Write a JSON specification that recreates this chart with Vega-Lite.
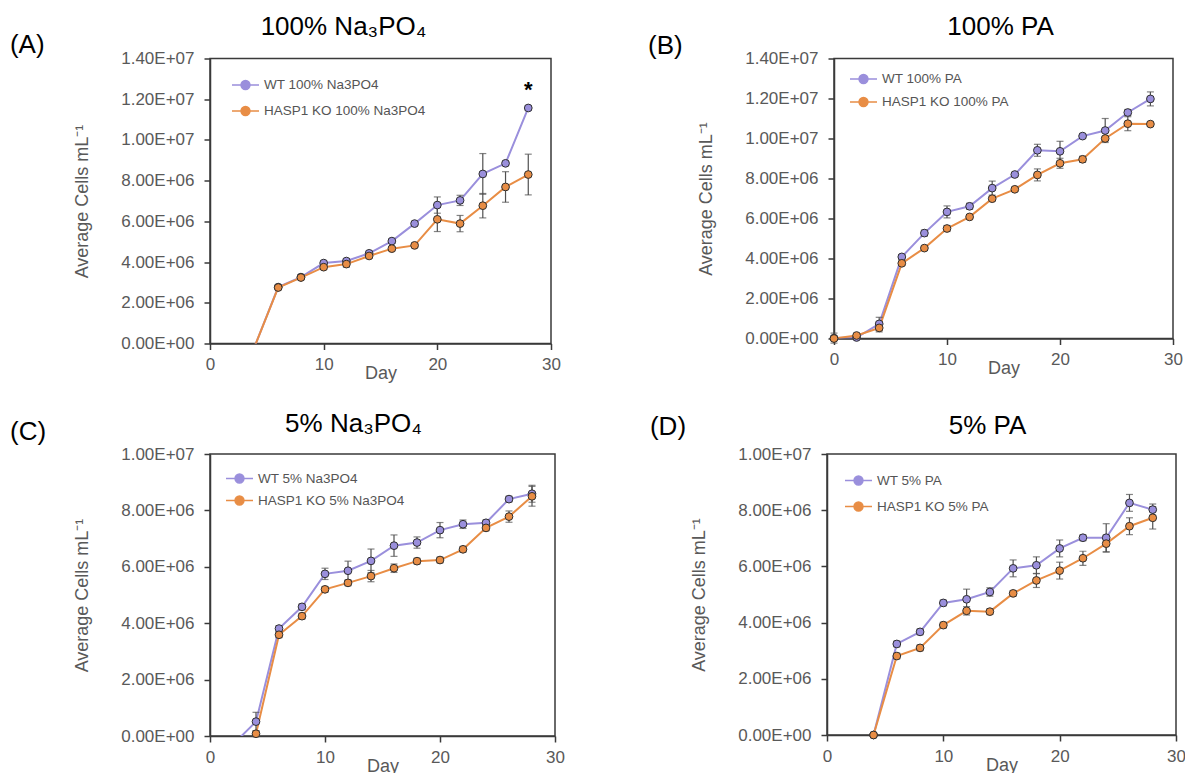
{
  "$schema": "https://vega.github.io/schema/vega-lite/v6.json",
  "padding": {"left": 9, "top": 12.5, "right": 0, "bottom": 5},
  "background": "white",
  "config": {
    "font": "Liberation Sans",
    "view": {"stroke": "#3a3a3a", "strokeWidth": 1.5},
    "axis": {"grid": false, "domainColor": "#3a3a3a", "domainWidth": 1.5, "tickColor": "#3a3a3a", "tickSize": 6, "tickWidth": 1.5, "labelColor": "#595959", "labelFontSize": 17, "titleColor": "#595959", "titleFontSize": 18, "titleFontWeight": "normal", "labelFont": "Liberation Sans", "titleFont": "Liberation Sans", "labelFlush": false},
    "axisX": {"labelPadding": 7, "titlePadding": -8},
    "axisY": {"labelPadding": 10, "titlePadding": 29},
    "title": {"fontSize": 26, "fontWeight": "normal", "color": "#000000", "font": "Liberation Sans", "frame": "group", "anchor": "middle"},
    "legend": {"title": null, "orient": "none", "symbolType": "M-1,0H-0.33M0.33,0H1M-0.33,0A0.33,0.33,0,1,0,0.33,0A0.33,0.33,0,1,0,-0.33,0Z", "symbolSize": 729, "symbolStrokeWidth": 1.5, "labelFontSize": 13.5, "labelColor": "#555555", "labelOffset": 4, "labelLimit": 400, "padding": 0}
  },
  "datasets": {
    "pts": [
      {"p": "A", "s": "WT 100% Na3PO4", "day": 4, "y": -50000, "e": 0},
      {"p": "A", "s": "WT 100% Na3PO4", "day": 6, "y": 2770000, "e": 50000},
      {"p": "A", "s": "WT 100% Na3PO4", "day": 8, "y": 3260000, "e": 100000},
      {"p": "A", "s": "WT 100% Na3PO4", "day": 10, "y": 3950000, "e": 100000},
      {"p": "A", "s": "WT 100% Na3PO4", "day": 12, "y": 4050000, "e": 100000},
      {"p": "A", "s": "WT 100% Na3PO4", "day": 14, "y": 4430000, "e": 100000},
      {"p": "A", "s": "WT 100% Na3PO4", "day": 16, "y": 5030000, "e": 100000},
      {"p": "A", "s": "WT 100% Na3PO4", "day": 18, "y": 5890000, "e": 100000},
      {"p": "A", "s": "WT 100% Na3PO4", "day": 20, "y": 6800000, "e": 400000},
      {"p": "A", "s": "WT 100% Na3PO4", "day": 22, "y": 7030000, "e": 250000},
      {"p": "A", "s": "WT 100% Na3PO4", "day": 24, "y": 8330000, "e": 1000000},
      {"p": "A", "s": "WT 100% Na3PO4", "day": 26, "y": 8850000, "e": 100000},
      {"p": "A", "s": "WT 100% Na3PO4", "day": 28, "y": 11570000, "e": 100000},
      {"p": "A", "s": "HASP1 KO 100% Na3PO4", "day": 4, "y": -50000, "e": 0},
      {"p": "A", "s": "HASP1 KO 100% Na3PO4", "day": 6, "y": 2750000, "e": 100000},
      {"p": "A", "s": "HASP1 KO 100% Na3PO4", "day": 8, "y": 3240000, "e": 100000},
      {"p": "A", "s": "HASP1 KO 100% Na3PO4", "day": 10, "y": 3750000, "e": 100000},
      {"p": "A", "s": "HASP1 KO 100% Na3PO4", "day": 12, "y": 3900000, "e": 150000},
      {"p": "A", "s": "HASP1 KO 100% Na3PO4", "day": 14, "y": 4300000, "e": 100000},
      {"p": "A", "s": "HASP1 KO 100% Na3PO4", "day": 16, "y": 4660000, "e": 100000},
      {"p": "A", "s": "HASP1 KO 100% Na3PO4", "day": 18, "y": 4820000, "e": 100000},
      {"p": "A", "s": "HASP1 KO 100% Na3PO4", "day": 20, "y": 6100000, "e": 600000},
      {"p": "A", "s": "HASP1 KO 100% Na3PO4", "day": 22, "y": 5890000, "e": 400000},
      {"p": "A", "s": "HASP1 KO 100% Na3PO4", "day": 24, "y": 6770000, "e": 600000},
      {"p": "A", "s": "HASP1 KO 100% Na3PO4", "day": 26, "y": 7690000, "e": 750000},
      {"p": "A", "s": "HASP1 KO 100% Na3PO4", "day": 28, "y": 8300000, "e": 1000000},

      {"p": "B", "s": "WT 100% PA", "day": 0, "y": 20000, "e": 250000},
      {"p": "B", "s": "WT 100% PA", "day": 2, "y": 50000, "e": 100000},
      {"p": "B", "s": "WT 100% PA", "day": 4, "y": 730000, "e": 330000},
      {"p": "B", "s": "WT 100% PA", "day": 6, "y": 4080000, "e": 100000},
      {"p": "B", "s": "WT 100% PA", "day": 8, "y": 5270000, "e": 150000},
      {"p": "B", "s": "WT 100% PA", "day": 10, "y": 6330000, "e": 300000},
      {"p": "B", "s": "WT 100% PA", "day": 12, "y": 6610000, "e": 150000},
      {"p": "B", "s": "WT 100% PA", "day": 14, "y": 7520000, "e": 350000},
      {"p": "B", "s": "WT 100% PA", "day": 16, "y": 8200000, "e": 100000},
      {"p": "B", "s": "WT 100% PA", "day": 18, "y": 9410000, "e": 300000},
      {"p": "B", "s": "WT 100% PA", "day": 20, "y": 9360000, "e": 500000},
      {"p": "B", "s": "WT 100% PA", "day": 22, "y": 10120000, "e": 100000},
      {"p": "B", "s": "WT 100% PA", "day": 24, "y": 10400000, "e": 600000},
      {"p": "B", "s": "WT 100% PA", "day": 26, "y": 11300000, "e": 150000},
      {"p": "B", "s": "WT 100% PA", "day": 28, "y": 11980000, "e": 350000},
      {"p": "B", "s": "HASP1 KO 100% PA", "day": 0, "y": 0, "e": 100000},
      {"p": "B", "s": "HASP1 KO 100% PA", "day": 2, "y": 150000, "e": 100000},
      {"p": "B", "s": "HASP1 KO 100% PA", "day": 4, "y": 530000, "e": 200000},
      {"p": "B", "s": "HASP1 KO 100% PA", "day": 6, "y": 3760000, "e": 100000},
      {"p": "B", "s": "HASP1 KO 100% PA", "day": 8, "y": 4520000, "e": 100000},
      {"p": "B", "s": "HASP1 KO 100% PA", "day": 10, "y": 5500000, "e": 150000},
      {"p": "B", "s": "HASP1 KO 100% PA", "day": 12, "y": 6080000, "e": 100000},
      {"p": "B", "s": "HASP1 KO 100% PA", "day": 14, "y": 6990000, "e": 100000},
      {"p": "B", "s": "HASP1 KO 100% PA", "day": 16, "y": 7460000, "e": 100000},
      {"p": "B", "s": "HASP1 KO 100% PA", "day": 18, "y": 8180000, "e": 300000},
      {"p": "B", "s": "HASP1 KO 100% PA", "day": 20, "y": 8760000, "e": 250000},
      {"p": "B", "s": "HASP1 KO 100% PA", "day": 22, "y": 8960000, "e": 150000},
      {"p": "B", "s": "HASP1 KO 100% PA", "day": 24, "y": 10000000, "e": 100000},
      {"p": "B", "s": "HASP1 KO 100% PA", "day": 26, "y": 10740000, "e": 350000},
      {"p": "B", "s": "HASP1 KO 100% PA", "day": 28, "y": 10720000, "e": 100000},

      {"p": "C", "s": "WT 5% Na3PO4", "day": 2, "y": -300000, "e": 0},
      {"p": "C", "s": "WT 5% Na3PO4", "day": 4, "y": 510000, "e": 330000},
      {"p": "C", "s": "WT 5% Na3PO4", "day": 6, "y": 3810000, "e": 100000},
      {"p": "C", "s": "WT 5% Na3PO4", "day": 8, "y": 4580000, "e": 100000},
      {"p": "C", "s": "WT 5% Na3PO4", "day": 10, "y": 5750000, "e": 200000},
      {"p": "C", "s": "WT 5% Na3PO4", "day": 12, "y": 5860000, "e": 340000},
      {"p": "C", "s": "WT 5% Na3PO4", "day": 14, "y": 6210000, "e": 420000},
      {"p": "C", "s": "WT 5% Na3PO4", "day": 16, "y": 6750000, "e": 380000},
      {"p": "C", "s": "WT 5% Na3PO4", "day": 18, "y": 6860000, "e": 200000},
      {"p": "C", "s": "WT 5% Na3PO4", "day": 20, "y": 7300000, "e": 270000},
      {"p": "C", "s": "WT 5% Na3PO4", "day": 22, "y": 7510000, "e": 150000},
      {"p": "C", "s": "WT 5% Na3PO4", "day": 24, "y": 7560000, "e": 100000},
      {"p": "C", "s": "WT 5% Na3PO4", "day": 26, "y": 8400000, "e": 100000},
      {"p": "C", "s": "WT 5% Na3PO4", "day": 28, "y": 8590000, "e": 300000},
      {"p": "C", "s": "HASP1 KO 5% Na3PO4", "day": 4, "y": 80000, "e": 100000},
      {"p": "C", "s": "HASP1 KO 5% Na3PO4", "day": 6, "y": 3590000, "e": 100000},
      {"p": "C", "s": "HASP1 KO 5% Na3PO4", "day": 8, "y": 4250000, "e": 100000},
      {"p": "C", "s": "HASP1 KO 5% Na3PO4", "day": 10, "y": 5200000, "e": 100000},
      {"p": "C", "s": "HASP1 KO 5% Na3PO4", "day": 12, "y": 5430000, "e": 100000},
      {"p": "C", "s": "HASP1 KO 5% Na3PO4", "day": 14, "y": 5670000, "e": 200000},
      {"p": "C", "s": "HASP1 KO 5% Na3PO4", "day": 16, "y": 5950000, "e": 150000},
      {"p": "C", "s": "HASP1 KO 5% Na3PO4", "day": 18, "y": 6200000, "e": 100000},
      {"p": "C", "s": "HASP1 KO 5% Na3PO4", "day": 20, "y": 6240000, "e": 100000},
      {"p": "C", "s": "HASP1 KO 5% Na3PO4", "day": 22, "y": 6620000, "e": 100000},
      {"p": "C", "s": "HASP1 KO 5% Na3PO4", "day": 24, "y": 7380000, "e": 100000},
      {"p": "C", "s": "HASP1 KO 5% Na3PO4", "day": 26, "y": 7780000, "e": 200000},
      {"p": "C", "s": "HASP1 KO 5% Na3PO4", "day": 28, "y": 8500000, "e": 350000},

      {"p": "D", "s": "WT  5% PA", "day": 4, "y": 0, "e": 0},
      {"p": "D", "s": "WT  5% PA", "day": 6, "y": 3240000, "e": 100000},
      {"p": "D", "s": "WT  5% PA", "day": 8, "y": 3670000, "e": 100000},
      {"p": "D", "s": "WT  5% PA", "day": 10, "y": 4700000, "e": 100000},
      {"p": "D", "s": "WT  5% PA", "day": 12, "y": 4830000, "e": 360000},
      {"p": "D", "s": "WT  5% PA", "day": 14, "y": 5090000, "e": 150000},
      {"p": "D", "s": "WT  5% PA", "day": 16, "y": 5930000, "e": 300000},
      {"p": "D", "s": "WT  5% PA", "day": 18, "y": 6040000, "e": 300000},
      {"p": "D", "s": "WT  5% PA", "day": 20, "y": 6640000, "e": 300000},
      {"p": "D", "s": "WT  5% PA", "day": 22, "y": 7020000, "e": 100000},
      {"p": "D", "s": "WT  5% PA", "day": 24, "y": 7020000, "e": 500000},
      {"p": "D", "s": "WT  5% PA", "day": 26, "y": 8260000, "e": 300000},
      {"p": "D", "s": "WT  5% PA", "day": 28, "y": 8020000, "e": 200000},
      {"p": "D", "s": "HASP1 KO 5% PA", "day": 4, "y": 0, "e": 0},
      {"p": "D", "s": "HASP1 KO 5% PA", "day": 6, "y": 2810000, "e": 100000},
      {"p": "D", "s": "HASP1 KO 5% PA", "day": 8, "y": 3100000, "e": 100000},
      {"p": "D", "s": "HASP1 KO 5% PA", "day": 10, "y": 3910000, "e": 100000},
      {"p": "D", "s": "HASP1 KO 5% PA", "day": 12, "y": 4420000, "e": 150000},
      {"p": "D", "s": "HASP1 KO 5% PA", "day": 14, "y": 4390000, "e": 100000},
      {"p": "D", "s": "HASP1 KO 5% PA", "day": 16, "y": 5040000, "e": 100000},
      {"p": "D", "s": "HASP1 KO 5% PA", "day": 18, "y": 5500000, "e": 250000},
      {"p": "D", "s": "HASP1 KO 5% PA", "day": 20, "y": 5850000, "e": 300000},
      {"p": "D", "s": "HASP1 KO 5% PA", "day": 22, "y": 6290000, "e": 250000},
      {"p": "D", "s": "HASP1 KO 5% PA", "day": 24, "y": 6810000, "e": 300000},
      {"p": "D", "s": "HASP1 KO 5% PA", "day": 26, "y": 7430000, "e": 300000},
      {"p": "D", "s": "HASP1 KO 5% PA", "day": 28, "y": 7730000, "e": 400000}
    ]
  },
  "resolve": {"scale": {"color": "independent", "x": "independent", "y": "independent"}, "legend": {"color": "independent"}},
  "spacing": 26.5,
  "vconcat": [
    {
      "spacing": 85,
      "resolve": {"scale": {"color": "independent", "x": "independent", "y": "independent"}, "legend": {"color": "independent"}},
      "hconcat": [
        {
          "width": 341, "height": 285,
          "view": {"stroke": "#3a3a3a", "strokeWidth": 1.5},
          "title": {"text": "100% Na₃PO₄", "dx": -37, "offset": -8},
          "encoding": {
            "x": {"field": "day", "type": "quantitative", "scale": {"domain": [0, 30], "nice": false}, "axis": {"values": [0, 10, 20, 30], "title": "Day"}},
            "y": {"field": "y", "type": "quantitative", "scale": {"domain": [0, 14000000], "nice": false}, "axis": {"values": [0, 2000000, 4000000, 6000000, 8000000, 10000000, 12000000, 14000000], "title": "Average Cells mL⁻¹", "labelExpr": "replace(format(datum.value, '.2e'), 'e+', 'E+0')"}},
            "color": {"field": "s", "type": "nominal", "scale": {"domain": ["WT 100% Na3PO4", "HASP1 KO 100% Na3PO4"], "range": ["#9a8fdc", "#e88d45"]}, "legend": {"legendX": 21, "legendY": 12, "rowPadding": 4}}
          },
          "layer": [
            {"data": {"name": "pts"}, "transform": [{"filter": "datum.p === 'A'"}], "mark": {"type": "line", "clip": true, "strokeWidth": 2}},
            {"data": {"name": "pts"}, "transform": [{"filter": "datum.p === 'A' && datum.e > 0"}], "mark": {"type": "errorbar", "ticks": {"size": 7, "thickness": 1.2}, "rule": {"strokeWidth": 1.2}}, "encoding": {"yError": {"field": "e"}, "color": {"value": "#505050"}}},
            {"data": {"name": "pts"}, "transform": [{"filter": "datum.p === 'A' && datum.y >= 0"}], "mark": {"type": "point", "filled": true, "size": 60, "stroke": "#2e2e2e", "strokeWidth": 1, "opacity": 1}},
            {"data": {"name": "pts"}, "transform": [{"filter": "datum.p === 'A' && datum.day === 28 && datum.e === 1000000"}], "mark": {"type": "text", "fontSize": 26, "align": "left", "baseline": "middle", "clip": false, "color": "#000000"}, "encoding": {"x": {"datum": -17.6}, "y": {"datum": 14639000}, "text": {"value": "(A)"}, "color": {"value": "#000000"}}},
            {"data": {"name": "pts"}, "transform": [{"filter": "datum.p === 'A' && datum.day === 28 && datum.e === 1000000"}], "mark": {"type": "text", "fontSize": 22, "fontWeight": "bold", "align": "center", "baseline": "middle", "color": "#000000"}, "encoding": {"x": {"datum": 28}, "y": {"datum": 12450000}, "text": {"value": "*"}, "color": {"value": "#000000"}}}
          ]
        },
        {
          "width": 339, "height": 280,
          "view": {"stroke": "#3a3a3a", "strokeWidth": 1.5},
          "title": {"text": "100% PA", "dx": -3, "offset": -7},
          "encoding": {
            "x": {"field": "day", "type": "quantitative", "scale": {"domain": [0, 30], "nice": false}, "axis": {"values": [0, 10, 20, 30], "title": "Day"}},
            "y": {"field": "y", "type": "quantitative", "scale": {"domain": [0, 14000000], "nice": false}, "axis": {"values": [0, 2000000, 4000000, 6000000, 8000000, 10000000, 12000000, 14000000], "title": "Average Cells mL⁻¹", "labelExpr": "replace(format(datum.value, '.2e'), 'e+', 'E+0')"}},
            "color": {"field": "s", "type": "nominal", "scale": {"domain": ["WT 100% PA", "HASP1 KO 100% PA"], "range": ["#9a8fdc", "#e88d45"]}, "legend": {"legendX": 15, "legendY": 6, "rowPadding": 1}}
          },
          "layer": [
            {"data": {"name": "pts"}, "transform": [{"filter": "datum.p === 'B'"}], "mark": {"type": "line", "clip": true, "strokeWidth": 2}},
            {"data": {"name": "pts"}, "transform": [{"filter": "datum.p === 'B' && datum.e > 0"}], "mark": {"type": "errorbar", "ticks": {"size": 7, "thickness": 1.2}, "rule": {"strokeWidth": 1.2}}, "encoding": {"yError": {"field": "e"}, "color": {"value": "#505050"}}},
            {"data": {"name": "pts"}, "transform": [{"filter": "datum.p === 'B' && datum.y >= 0"}], "mark": {"type": "point", "filled": true, "size": 60, "stroke": "#2e2e2e", "strokeWidth": 1, "opacity": 1}},
            {"data": {"name": "pts"}, "transform": [{"filter": "datum.p === 'B' && datum.day === 28 && datum.y === 11980000"}], "mark": {"type": "text", "fontSize": 26, "align": "left", "baseline": "middle", "clip": false, "color": "#000000"}, "encoding": {"x": {"datum": -16.46}, "y": {"datum": 14650000}, "text": {"value": "(B)"}, "color": {"value": "#000000"}}}
          ]
        }
      ]
    },
    {
      "spacing": 83,
      "resolve": {"scale": {"color": "independent", "x": "independent", "y": "independent"}, "legend": {"color": "independent"}},
      "hconcat": [
        {
          "width": 345, "height": 282,
          "view": {"stroke": "#3a3a3a", "strokeWidth": 1.5},
          "title": {"text": "5% Na₃PO₄", "dx": -29, "offset": -18},
          "encoding": {
            "x": {"field": "day", "type": "quantitative", "scale": {"domain": [0, 30], "nice": false}, "axis": {"values": [0, 10, 20, 30], "title": "Day"}},
            "y": {"field": "y", "type": "quantitative", "scale": {"domain": [0, 10000000], "nice": false}, "axis": {"values": [0, 2000000, 4000000, 6000000, 8000000, 10000000], "title": "Average Cells mL⁻¹", "labelExpr": "replace(format(datum.value, '.2e'), 'e+', 'E+0')"}},
            "color": {"field": "s", "type": "nominal", "scale": {"domain": ["WT 5% Na3PO4", "HASP1 KO 5% Na3PO4"], "range": ["#9a8fdc", "#e88d45"]}, "legend": {"legendX": 15, "legendY": 10, "rowPadding": 0}}
          },
          "layer": [
            {"data": {"name": "pts"}, "transform": [{"filter": "datum.p === 'C'"}], "mark": {"type": "line", "clip": true, "strokeWidth": 2}},
            {"data": {"name": "pts"}, "transform": [{"filter": "datum.p === 'C' && datum.e > 0"}], "mark": {"type": "errorbar", "ticks": {"size": 7, "thickness": 1.2}, "rule": {"strokeWidth": 1.2}}, "encoding": {"yError": {"field": "e"}, "color": {"value": "#505050"}}},
            {"data": {"name": "pts"}, "transform": [{"filter": "datum.p === 'C' && datum.y >= 0"}], "mark": {"type": "point", "filled": true, "size": 60, "stroke": "#2e2e2e", "strokeWidth": 1, "opacity": 1}},
            {"data": {"name": "pts"}, "transform": [{"filter": "datum.p === 'C' && datum.day === 28 && datum.y === 8590000"}], "mark": {"type": "text", "fontSize": 26, "align": "left", "baseline": "middle", "clip": false, "color": "#000000"}, "encoding": {"x": {"datum": -17.39}, "y": {"datum": 10780000}, "text": {"value": "(C)"}, "color": {"value": "#000000"}}}
          ]
        },
        {
          "width": 349, "height": 281,
          "view": {"stroke": "#3a3a3a", "strokeWidth": 1.5},
          "title": {"text": "5% PA", "dx": -14, "offset": -25},
          "encoding": {
            "x": {"field": "day", "type": "quantitative", "scale": {"domain": [0, 30], "nice": false}, "axis": {"values": [0, 10, 20, 30], "title": "Day"}},
            "y": {"field": "y", "type": "quantitative", "scale": {"domain": [0, 10000000], "nice": false}, "axis": {"values": [0, 2000000, 4000000, 6000000, 8000000, 10000000], "title": "Average Cells mL⁻¹", "labelExpr": "replace(format(datum.value, '.2e'), 'e+', 'E+0')"}},
            "color": {"field": "s", "type": "nominal", "scale": {"domain": ["WT  5% PA", "HASP1 KO 5% PA"], "range": ["#9a8fdc", "#e88d45"]}, "legend": {"legendX": 17, "legendY": 12, "rowPadding": 4}}
          },
          "layer": [
            {"data": {"name": "pts"}, "transform": [{"filter": "datum.p === 'D'"}], "mark": {"type": "line", "clip": true, "strokeWidth": 2}},
            {"data": {"name": "pts"}, "transform": [{"filter": "datum.p === 'D' && datum.e > 0"}], "mark": {"type": "errorbar", "ticks": {"size": 7, "thickness": 1.2}, "rule": {"strokeWidth": 1.2}}, "encoding": {"yError": {"field": "e"}, "color": {"value": "#505050"}}},
            {"data": {"name": "pts"}, "transform": [{"filter": "datum.p === 'D' && datum.y >= 0"}], "mark": {"type": "point", "filled": true, "size": 60, "stroke": "#2e2e2e", "strokeWidth": 1, "opacity": 1}},
            {"data": {"name": "pts"}, "transform": [{"filter": "datum.p === 'D' && datum.day === 28 && datum.y === 8020000"}], "mark": {"type": "text", "fontSize": 26, "align": "left", "baseline": "middle", "clip": false, "color": "#000000"}, "encoding": {"x": {"datum": -15.22}, "y": {"datum": 10960000}, "text": {"value": "(D)"}, "color": {"value": "#000000"}}}
          ]
        }
      ]
    }
  ]
}
